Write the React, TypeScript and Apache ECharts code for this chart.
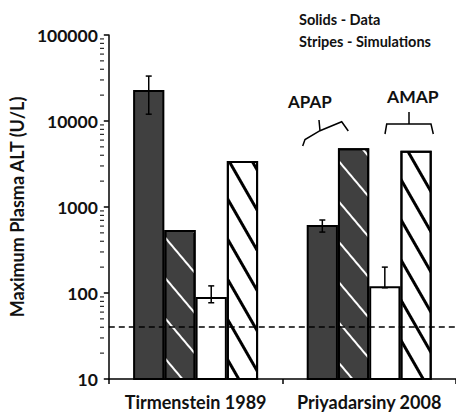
import React, { useEffect, useRef } from 'react';
import * as echarts from 'echarts';

const categories = ['Tirmenstein 1989', 'Priyadarsiny 2008'];
const apapData = [22900, 616];
const apapSim = [541, 4820];
const amapData = [90, 120];
const amapSim = [3430, 4520];
const apapDataErr = [[12000, 33300], [511, 706]];
const amapDataErr = [[77, 121], [115, 200]];
const minorTickValues = [
  20, 30, 40, 50, 60, 70, 80, 90,
  200, 300, 400, 500, 600, 700, 800, 900,
  2000, 3000, 4000, 5000, 6000, 7000, 8000, 9000,
  20000, 30000, 40000, 50000, 60000, 70000, 80000, 90000,
];
const thresholdALT = 40;

const FONT = 'Lato';
const DARK = '#404040';
const GAP = 0.28;
const GRID_LEFT = 104;

export default function App() {
  const ref = useRef<HTMLDivElement>(null);
  useEffect(() => {
    if (!ref.current) return;
    const chart = echarts.init(ref.current, null, { renderer: 'svg' });

    const errData: any[] = [];
    apapDataErr.forEach((e, i) => errData.push([i, e[0], e[1], 0]));
    amapDataErr.forEach((e, i) => errData.push([i, e[0], e[1], 2]));

    const barBase = {
      type: 'bar',
      barGap: '0%',
      barCategoryGap: '28%',
      silent: true,
    };

    const annotations: any[] = [
      {
        type: 'text',
        left: 299,
        top: 12,
        style: { text: 'Solids - Data', fontSize: 14.5, fontWeight: 'bold', fill: '#111', fontFamily: FONT },
      },
      {
        type: 'text',
        left: 299,
        top: 34,
        style: { text: 'Stripes - Simulations', fontSize: 14.5, fontWeight: 'bold', fill: '#111', fontFamily: FONT },
      },
      {
        type: 'text',
        left: 288,
        top: 93,
        style: { text: 'APAP', fontSize: 17, fontWeight: 'bold', fill: '#111', fontFamily: FONT },
      },
      {
        type: 'text',
        left: 387,
        top: 87,
        style: { text: 'AMAP', fontSize: 17.5, fontWeight: 'bold', fill: '#111', fontFamily: FONT },
      },
      {
        type: 'polyline',
        shape: {
          points: [
            [302.7, 146],
            [305, 139.5],
            [320, 130.7],
            [341.7, 121.7],
            [348.3, 131],
          ],
        },
        style: { stroke: '#000', lineWidth: 1.5, fill: 'none' },
      },
      {
        type: 'line',
        shape: { x1: 320, y1: 130.7, x2: 319, y2: 120 },
        style: { stroke: '#000', lineWidth: 1.5 },
      },
      {
        type: 'polyline',
        shape: {
          points: [
            [385, 134],
            [386.7, 124],
            [431, 124],
            [433.3, 134],
          ],
        },
        style: { stroke: '#000', lineWidth: 1.5, fill: 'none' },
      },
      {
        type: 'line',
        shape: { x1: 409, y1: 124, x2: 409, y2: 112 },
        style: { stroke: '#000', lineWidth: 1.5 },
      },
    ];

    const option: any = {
      animation: false,
      textStyle: { fontFamily: FONT },
      grid: { left: GRID_LEFT, top: 35, bottom: 35, width: 356 },
      xAxis: {
        type: 'category',
        data: categories,
        axisLine: { lineStyle: { color: '#000', width: 1.5 } },
        axisTick: { show: true, length: 5, lineStyle: { color: '#000', width: 1.5 } },
        axisLabel: {
          interval: 0,
          hideOverlap: false,
          fontSize: 18,
          fontWeight: 'bold',
          color: '#111',
          margin: 14,
          fontFamily: FONT,
        },
      },
      yAxis: {
        type: 'log',
        logBase: 10,
        min: 10,
        max: 100000,
        name: 'Maximum Plasma ALT (U/L)',
        nameLocation: 'middle',
        nameGap: 68,
        nameTextStyle: { fontSize: 18, fontWeight: 'bold', color: '#111', fontFamily: FONT },
        axisLine: { show: true, lineStyle: { color: '#000', width: 1.5 } },
        axisTick: { show: true, length: 5, lineStyle: { color: '#000', width: 1.5 } },
        splitLine: { show: false },
        axisLabel: {
          fontSize: 17.5,
          fontWeight: 'bold',
          color: '#111',
          margin: 11,
          fontFamily: FONT,
          formatter: (v: number) => String(Math.round(v)),
        },
      },
      series: [
        {
          ...barBase,
          name: 'APAP data',
          data: apapData,
          itemStyle: { color: DARK, borderColor: '#000', borderWidth: 2 },
          markLine: {
            silent: true,
            symbol: 'none',
            label: { show: false },
            lineStyle: { color: '#000', width: 1.5, type: [6, 4] },
            data: [{ yAxis: thresholdALT }],
          },
        },
        {
          ...barBase,
          name: 'APAP simulation',
          data: apapSim,
          itemStyle: {
            color: DARK,
            borderColor: '#000',
            borderWidth: 2,
            decal: {
              symbol: 'rect',
              symbolSize: 1,
              color: '#ffffff',
              dashArrayX: [1, 0],
              dashArrayY: [2, 24],
              rotation: 0.87,
            },
          },
        },
        {
          ...barBase,
          name: 'AMAP data',
          data: amapData,
          itemStyle: { color: '#fff', borderColor: '#000', borderWidth: 2 },
        },
        {
          ...barBase,
          name: 'AMAP simulation',
          data: amapSim,
          itemStyle: {
            color: '#fff',
            borderColor: '#000',
            borderWidth: 2,
            decal: {
              symbol: 'rect',
              symbolSize: 1,
              color: '#000000',
              dashArrayX: [1, 0],
              dashArrayY: [2.5, 16.5],
              rotation: 1.05,
            },
          },
        },
        {
          type: 'custom',
          name: 'errors',
          silent: true,
          clip: false,
          data: errData,
          z: 5,
          renderItem: (params: any, api: any) => {
            const idx = api.value(0);
            const lo = api.value(1);
            const hi = api.value(2);
            const k = api.value(3);
            const p0 = api.coord([0, lo]);
            const p1 = api.coord([1, lo]);
            const band = p1[0] - p0[0];
            const barW = (band * (1 - GAP)) / 4;
            const c = api.coord([idx, lo]);
            const x = c[0] + (k - 1.5) * barW;
            const yLo = api.coord([idx, lo])[1];
            const yHi = api.coord([idx, hi])[1];
            const cap = 3;
            const st = { stroke: '#000', lineWidth: 1.5 };
            return {
              type: 'group',
              children: [
                { type: 'line', shape: { x1: x, y1: yLo, x2: x, y2: yHi }, style: st },
                { type: 'line', shape: { x1: x - cap, y1: yLo, x2: x + cap, y2: yLo }, style: st },
                { type: 'line', shape: { x1: x - cap, y1: yHi, x2: x + cap, y2: yHi }, style: st },
              ],
            };
          },
        },
      ],
      graphic: annotations,
    };

    chart.setOption(option);

    // minor log ticks, positioned through the y axis scale
    const minorTicks = minorTickValues.map((v) => {
      const y = chart.convertToPixel({ yAxisIndex: 0 }, v) as number;
      return {
        type: 'line',
        shape: { x1: GRID_LEFT - 4, y1: y, x2: GRID_LEFT, y2: y },
        style: { stroke: '#000', lineWidth: 1 },
        z: 100,
      };
    });
    chart.setOption({ graphic: [...annotations, ...minorTicks] });

    return () => chart.dispose();
  }, []);

  return (
    <div
      ref={ref}
      style={{ position: 'absolute', left: 0, top: 0, width: 456, height: 414, background: '#fff' }}
    />
  );
}
